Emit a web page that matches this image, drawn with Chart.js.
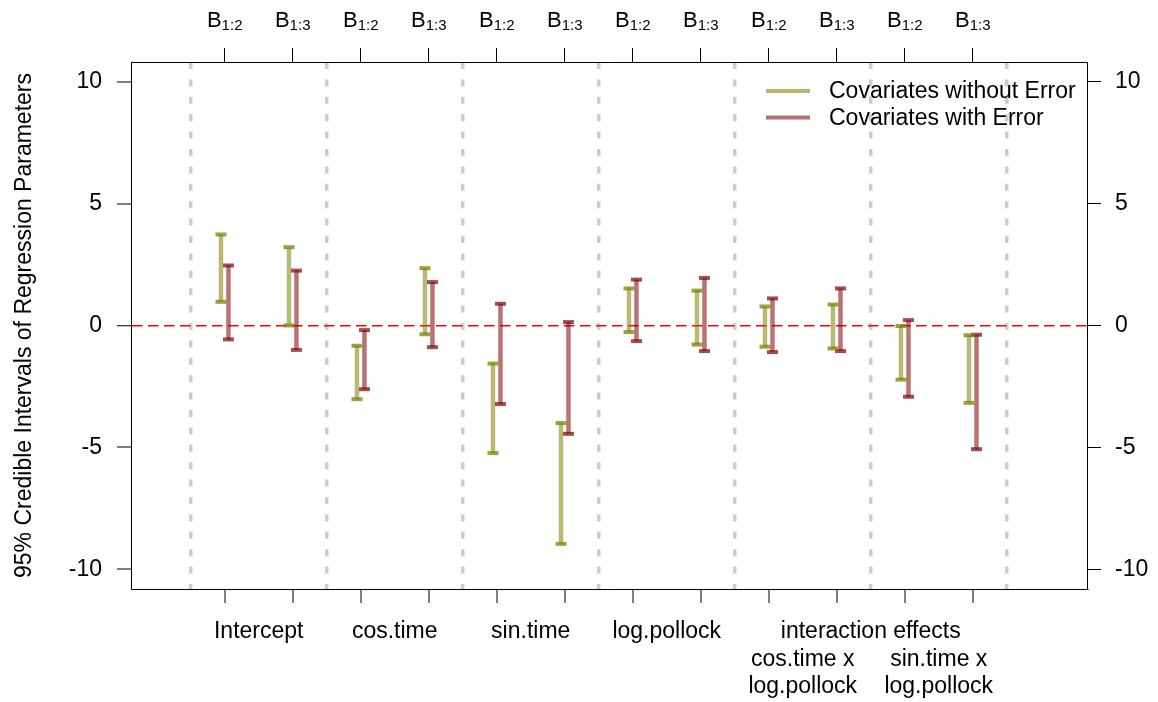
<!doctype html>
<html>
<head>
<title>Credible intervals of regression parameters</title>
<script src="https://cdn.jsdelivr.net/npm/chart.js"></script>
<style>
body { margin: 0; background: #fff; }
</style>
</head>
<body>
<canvas id="mycanvas" width="1158" height="702"></canvas>
<script>

// covariates (two intervals each) and axis text
var covariates = ['Intercept', 'cos.time', 'sin.time', 'log.pollock', 'cos.time x\nlog.pollock', 'sin.time x\nlog.pollock'];
var intervals = ['1:2', '1:3'];
var groupTitle = 'interaction effects';
var yTicks = [-10, -5, 0, 5, 10];
var yTitle = '95% Credible Intervals of Regression Parameters';
var seriesNames = ['Covariates without Error', 'Covariates with Error'];

// 95% intervals, one per B column
var noErrLower = [0.97, 0.00, -3.02, -0.36, -5.23, -8.95, -0.27, -0.78, -0.87, -0.94, -2.22, -3.17];
var noErrUpper = [3.73, 3.21, -0.83, 2.35, -1.56, -4.00, 1.52, 1.43, 0.78, 0.86, -0.02, -0.40];
var errLower = [-0.57, -1.00, -2.61, -0.89, -3.22, -4.44, -0.64, -1.05, -1.09, -1.05, -2.92, -5.07];
var errUpper = [2.46, 2.25, -0.19, 1.78, 0.89, 0.14, 1.88, 1.95, 1.11, 1.52, 0.22, -0.38];

var FONT = '"Liberation Sans", Arial, Helvetica, sans-serif';
var greenShaft = 'rgba(128,128,0,0.55)', greenCap = 'rgba(128,128,0,0.75)';
var redShaft = 'rgba(128,0,0,0.55)', redCap = 'rgba(128,0,0,0.7)';

var nCols = noErrLower.length;
var xMin = -0.378, xMax = 13.68;

// bottom axis: tick marks at columns, dashed separators between covariates, labels between pairs
var labelMap = {};
covariates.forEach(function(c, i) {
  var lines = c.split('\n');
  labelMap[(2 * i + 1.5).toFixed(1)] = lines.length > 1 ? [''].concat(lines) : lines;
});
labelMap[(10.5).toFixed(1)] = [groupTitle];

function isColumn(v) { return Math.abs(v - Math.round(v)) < 1e-6; }
function isSeparator(v) { return !isColumn(v) && Math.round(v + 0.5) % 2 === 1; }

var bottomTicks = [];
for (var i = 0; i <= nCols; i++) {
  if (i > 0) bottomTicks.push(i);
  if (i % 2 === 0) bottomTicks.push(i + 0.5);
}
Object.keys(labelMap).forEach(function(k) {
  var v = parseFloat(k);
  if (bottomTicks.indexOf(v) < 0) bottomTicks.push(v);
});
bottomTicks.sort(function(a, b) { return a - b; });

function bars(lower, upper, offset) {
  var pts = [];
  for (var i = 0; i < lower.length; i++) {
    pts.push({x: i + 1 + offset, y: lower[i]});
    pts.push({x: i + 1 + offset, y: upper[i]});
    pts.push({x: i + 1 + offset, y: null});
  }
  return pts;
}

function errorSet(name, data, shaft, cap) {
  return {
    label: name,
    data: data,
    borderColor: shaft,
    borderWidth: 4.5,
    borderCapStyle: 'butt',
    spanGaps: false,
    fill: false,
    tension: 0,
    pointStyle: 'line',
    pointRadius: 5.5,
    pointBorderWidth: 4,
    pointBorderColor: cap,
    pointBackgroundColor: cap
  };
}

// top B labels with subscripts, and the legend
var extras = {
  id: 'extras',
  afterDraw: function(chart) {
    var ctx = chart.ctx;
    var top = chart.scales.x2;
    var area = chart.chartArea;
    ctx.save();
    ctx.fillStyle = '#000';
    ctx.textBaseline = 'alphabetic';
    ctx.textAlign = 'left';
    for (var i = 0; i < nCols; i++) {
      var px = top.getPixelForValue(i + 1);
      var sub = intervals[i % 2];
      ctx.font = '22px ' + FONT;
      var wB = ctx.measureText('B').width;
      ctx.font = '15px ' + FONT;
      var wS = ctx.measureText(sub).width;
      var x0 = px - (wB + wS) / 2;
      ctx.font = '22px ' + FONT;
      ctx.fillText('B', x0, 27);
      ctx.font = '15px ' + FONT;
      ctx.fillText(sub, x0 + wB, 30);
    }
    // legend, top right inside the box
    var cols = [greenShaft, redShaft];
    ctx.font = '23px ' + FONT;
    ctx.textBaseline = 'middle';
    for (var j = 0; j < seriesNames.length; j++) {
      var y = area.top + 29 + j * 26.5;
      ctx.strokeStyle = cols[j];
      ctx.lineWidth = 4;
      ctx.beginPath();
      ctx.moveTo(area.right - 321, y);
      ctx.lineTo(area.right - 277, y);
      ctx.stroke();
      ctx.fillText(seriesNames[j], area.right - 258, y + 1);
    }
    ctx.restore();
  }
};

var offs = 0.055;
var ctx = document.getElementById('mycanvas');

var chart = new Chart(ctx, {
  type: 'line',
  data: {
    datasets: [
      errorSet(seriesNames[0], bars(noErrLower, noErrUpper, -offs), greenShaft, greenCap),
      errorSet(seriesNames[1], bars(errLower, errUpper, offs), redShaft, redCap)
    ]
  },
  plugins: [extras],
  options: {
    responsive: false,
    animation: false,
    events: [],
    layout: { padding: 0 },
    plugins: {
      legend: { display: false },
      tooltip: { enabled: false }
    },
    scales: {
      x: {
        type: 'linear',
        position: 'bottom',
        min: xMin,
        max: xMax,
        afterBuildTicks: function(axis) {
          axis.ticks = bottomTicks.map(function(v) { return {value: v}; });
        },
        afterFit: function(axis) { axis.height = 113; },
        border: { display: true, color: '#000', width: 1, dash: [7, 10.4] },
        grid: {
          drawOnChartArea: true,
          drawTicks: true,
          tickLength: 14,
          color: function(c) { return c.tick && isSeparator(c.tick.value) ? 'rgb(204,204,204)' : 'rgba(0,0,0,0)'; },
          lineWidth: function(c) { return c.tick && isSeparator(c.tick.value) ? 3.5 : 0; },
          tickColor: function(c) { return c.tick && isColumn(c.tick.value) ? '#000' : 'rgba(0,0,0,0)'; },
          tickWidth: function(c) { return c.tick && isColumn(c.tick.value) ? 1 : 0; }
        },
        ticks: {
          autoSkip: false,
          maxRotation: 0,
          minRotation: 0,
          padding: 15,
          color: '#000',
          font: { family: FONT, size: 23 },
          callback: function(v) {
            var l = labelMap[Number(v).toFixed(1)];
            return l ? l : '';
          }
        }
      },
      x2: {
        type: 'linear',
        position: 'top',
        min: xMin,
        max: xMax,
        afterBuildTicks: function(axis) {
          var t = [];
          for (var i = 1; i <= nCols; i++) t.push({value: i});
          axis.ticks = t;
        },
        afterFit: function(axis) { axis.height = 62; },
        border: { display: true, color: '#000', width: 1 },
        grid: { drawOnChartArea: false, drawTicks: true, tickLength: 14, tickColor: '#000', tickWidth: 1 },
        ticks: { autoSkip: false, maxRotation: 0, callback: function() { return ''; } }
      },
      y: {
        type: 'linear',
        position: 'left',
        min: -10.8,
        max: 10.8,
        afterBuildTicks: function(axis) {
          axis.ticks = yTicks.map(function(v) { return {value: v}; });
        },
        afterFit: function(axis) { axis.width = 131; },
        border: { display: true, color: '#000', width: 1, dash: [10.5, 5.5] },
        grid: {
          drawOnChartArea: true,
          tickLength: 14,
          tickColor: '#000',
          tickWidth: 1,
          color: function(c) { return c.tick && c.tick.value === 0 ? '#ff0000' : 'rgba(0,0,0,0)'; },
          lineWidth: function(c) { return c.tick && c.tick.value === 0 ? 1.5 : 0; }
        },
        ticks: {
          padding: 15,
          color: '#000',
          font: { family: FONT, size: 23 },
          callback: function(v) { return String(v); }
        },
        title: {
          display: true,
          text: yTitle,
          color: '#000',
          font: { family: FONT, size: 23 },
          padding: { top: 11, bottom: 0 }
        }
      },
      y2: {
        type: 'linear',
        position: 'right',
        min: -10.8,
        max: 10.8,
        afterBuildTicks: function(axis) {
          axis.ticks = yTicks.map(function(v) { return {value: v}; });
        },
        afterFit: function(axis) { axis.width = 71; },
        border: { display: true, color: '#000', width: 1 },
        grid: { drawOnChartArea: false, tickLength: 14, tickColor: '#000', tickWidth: 1 },
        ticks: {
          padding: 14,
          color: '#000',
          font: { family: FONT, size: 23 },
          callback: function(v) { return String(v); }
        }
      }
    }
  }
});
</script>
</body>
</html>
